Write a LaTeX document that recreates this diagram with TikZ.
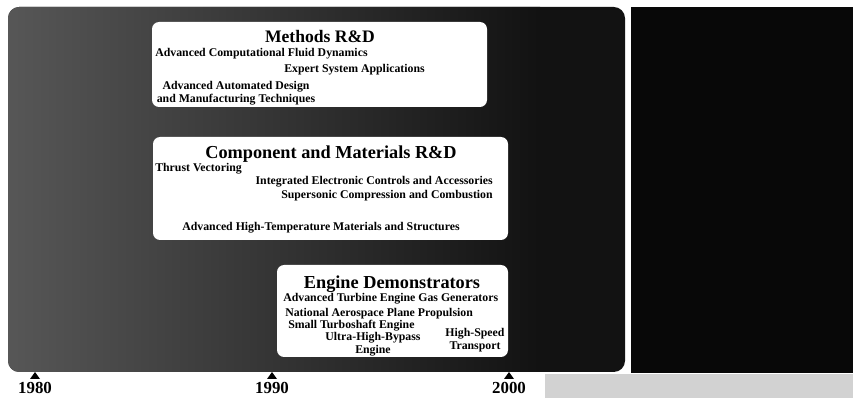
\documentclass[tikz,border=0pt]{standalone}
\usepackage{fontspec}
\setmainfont{Liberation Serif}
\usetikzlibrary{positioning}

\begin{document}
\begin{tikzpicture}[x=0.025cm, y=-0.025cm,
    rdbox/.style={fill=white, rounded corners=5},
    rdtitle/.style={font=\fontsize{13}{13}\selectfont\bfseries, inner sep=0pt, anchor=base},
    rditem/.style={font=\fontsize{8.4}{9}\selectfont\bfseries, inner sep=0pt},
    yearlabel/.style={font=\fontsize{12}{12}\selectfont\bfseries, inner sep=0pt}]
      \useasboundingbox (0,0) rectangle (853,398);

      % dark backdrop, split into two panels
      \coordinate (TL) at (8,7);
      \coordinate (BR) at (625,372);
      \fill[black!93, rounded corners=8] (TL) rectangle (BR);
      \begin{scope}
        \clip[rounded corners=8] (TL) rectangle (BR);
        \shade[left color=black!66, right color=black!93] (8,7) rectangle (540,372);
      \end{scope}
      \fill[black!97] (631,7) rectangle (853,373);
      \fill[gray!35] (545,374) rectangle (853,398);

      % Methods R&D
      \fill[rdbox] (152,22) rectangle (487,107);
      \node[rdtitle, font=\fontsize{12.5}{12.5}\selectfont\bfseries] (methods) at (320,43) {Methods R\&D};
      \node[rditem, anchor=base west] (cfd) at (155,57) {Advanced Computational Fluid Dynamics};
      \node[rditem, anchor=base east] (expert) at (425,73) {Expert System Applications};
      \node[rditem, align=center] (automated) at (236,93) {Advanced Automated Design\\and Manufacturing Techniques};

      % Component and Materials R&D
      \fill[rdbox] (153,137) rectangle (508,240);
      \node[rdtitle] (component) at (331,159) {Component and Materials R\&D};
      \node[rditem, anchor=base west] (thrust) at (155,172) {Thrust Vectoring};
      \node[rditem, anchor=base east] (controls) at (493,185) {Integrated Electronic Controls and Accessories};
      \node[rditem, anchor=base east] (supersonic) at (493,199) {Supersonic Compression and Combustion};
      \node[rditem, anchor=base west] (hightemp) at (182,231) {Advanced High-Temperature Materials and Structures};

      % Engine Demonstrators
      \fill[rdbox] (277,265) rectangle (508,357);
      \node[rdtitle] (engine) at (392,289) {Engine Demonstrators};
      \node[rditem, anchor=base west] (gasgen) at (283,302) {Advanced Turbine Engine Gas Generators};
      \node[rditem, anchor=base west] (aerospace) at (285,317) {National Aerospace Plane Propulsion};
      \node[rditem, anchor=base west] (turboshaft) at (288,329) {Small Turboshaft Engine};
      \node[rditem, align=center] (bypass) at (373,344) {Ultra-High-Bypass\\Engine};
      \node[rditem, align=center] (hst) at (475,340) {High-Speed\\Transport};

      % time axis
      \foreach \x/\yr in {35/1980, 272/1990, 509/2000} {
        \fill (\x-5,379) -- (\x+5,379) -- (\x,372) -- cycle;
        \node[yearlabel] (y\yr) at (\x,388) {\yr};
      }
\end{tikzpicture}
\end{document}
